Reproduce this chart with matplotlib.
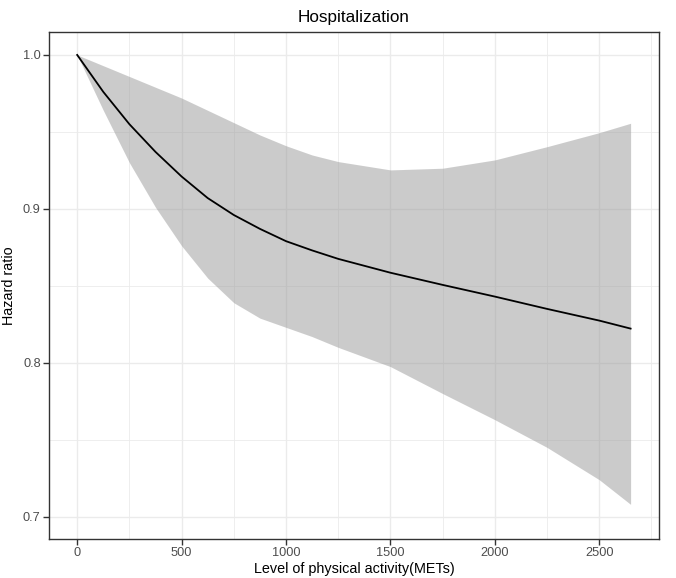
import matplotlib
matplotlib.use("Agg")
import matplotlib.pyplot as plt
from matplotlib.ticker import MultipleLocator

plt.rcParams['font.family'] = ['Liberation Sans', 'DejaVu Sans']

# values
mets = [0, 125, 250, 375, 500, 625, 750, 875, 1000, 1125, 1250, 1500, 1750,
        2000, 2250, 2500, 2650]
hr = [1.0, 0.976, 0.955, 0.937, 0.921, 0.907, 0.896, 0.887, 0.879, 0.873,
      0.8675, 0.8585, 0.8506, 0.843, 0.835, 0.8274, 0.8222]
hr_upper = [1.0, 0.993, 0.986, 0.979, 0.972, 0.964, 0.956, 0.948, 0.941, 0.935,
            0.9307, 0.9253, 0.9264, 0.9318, 0.9404, 0.9495, 0.9556]
hr_lower = [1.0, 0.964, 0.930, 0.901, 0.876, 0.855, 0.839, 0.829, 0.823, 0.817,
            0.810, 0.7975, 0.780, 0.763, 0.745, 0.724, 0.708]
x_ticks = [0, 500, 1000, 1500, 2000, 2500]
y_ticks = [0.7, 0.8, 0.9, 1.0]

fig = plt.figure(figsize=(6.76, 5.78), dpi=100)
ax = fig.add_axes([49/676, 1 - 539/578, 610/676, 507/578])

ax.fill_between(mets, hr_lower, hr_upper, color='#999999', alpha=0.5, linewidth=0, zorder=2)
ax.plot(mets, hr, color='black', lw=1.3, zorder=3)

ax.set_xlim(-135, 2786)
ax.set_ylim(0.6855, 1.0149)
ax.set_xticks(x_ticks)
ax.set_yticks(y_ticks)
ax.set_yticklabels([f"{v:.1f}" for v in y_ticks])
ax.xaxis.set_minor_locator(MultipleLocator(250))
ax.yaxis.set_minor_locator(MultipleLocator(0.05))

ax.set_axisbelow(True)
ax.grid(which='major', color='#EBEBEB', lw=1.0, zorder=0)
ax.grid(which='minor', color='#EBEBEB', lw=0.6, zorder=0)
ax.tick_params(which='major', length=4, width=1, color='#333333',
               labelsize=9.2, labelcolor='#4D4D4D', pad=2)
ax.tick_params(which='minor', length=0)

for s in ax.spines.values():
    s.set_color('#333333')
    s.set_linewidth(1.0)

ax.set_xlabel('Level of physical activity(METs)', fontsize=10.4, labelpad=2)
ax.set_ylabel('Hazard ratio', fontsize=10.4, labelpad=5)
ax.set_title('Hospitalization', fontsize=12.3, pad=7)

fig.savefig('out.png', dpi=100)
